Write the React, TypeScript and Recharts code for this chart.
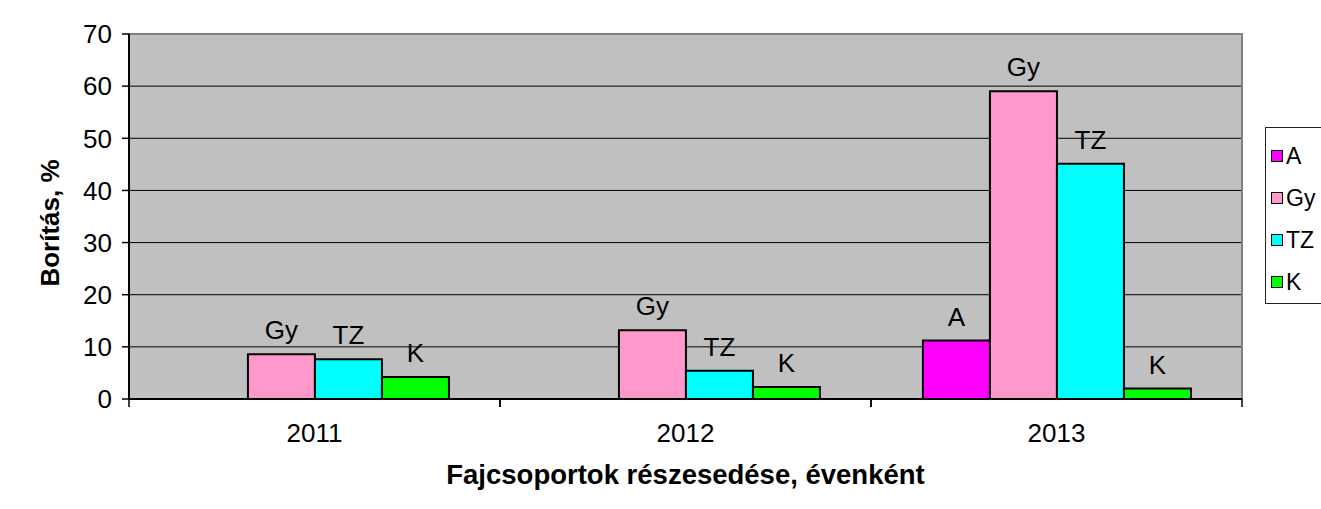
import React from 'react';
import { BarChart, Bar, XAxis, YAxis, CartesianGrid, LabelList, ReferenceArea } from 'recharts';

const years = ['2011', '2012', '2013'];
const seriesA = [0, 0, 11.2];
const seriesGy = [8.6, 13.2, 59.0];
const seriesTZ = [7.6, 5.4, 45.1];
const seriesK = [4.2, 2.3, 2.0];
const yTicks = [0, 10, 20, 30, 40, 50, 60, 70];
const seriesNames = ['A', 'Gy', 'TZ', 'K'];
const seriesColors = ['#FF00FF', '#FF99CC', '#00FFFF', '#00FF00'];
const yTitle = 'Borítás, %';
const xTitle = 'Fajcsoportok részesedése, évenként';

const data = years.map((year, i) => ({
  year,
  A: seriesA[i],
  Gy: seriesGy[i],
  TZ: seriesTZ[i],
  K: seriesK[i],
}));

const FONT = '"Liberation Sans", Arial, sans-serif';

const XTick = (props: any) => {
  const { x, y, payload, width } = props;
  const half = payload && payload.offset ? payload.offset : (width || 1113) / years.length / 2;
  return (
    <g>
      <line x1={x - half} y1={y} x2={x - half} y2={y + 8} stroke="#000" strokeWidth={1.5} />
      <line x1={x + half} y1={y} x2={x + half} y2={y + 8} stroke="#000" strokeWidth={1.5} />
      <text x={x} y={y + 43} textAnchor="middle" fontFamily={FONT} fontSize={26} fill="#000">
        {payload.value}
      </text>
    </g>
  );
};

const LegendBox = () => (
  <div
    style={{
      position: 'absolute',
      left: 1265,
      top: 127,
      border: '1px solid #222',
      background: '#fff',
      width: 90,
      height: 177,
      boxSizing: 'border-box',
      paddingTop: 7,
      fontFamily: FONT,
      fontSize: 23,
      color: '#000',
    }}
  >
    {seriesNames.map((n, i) => (
      <div key={n} style={{ height: 42, display: 'flex', alignItems: 'center', paddingLeft: 5 }}>
        <span
          style={{
            display: 'inline-block',
            width: 10,
            height: 10,
            background: seriesColors[i],
            border: '1.5px solid #000',
            marginRight: 3,
          }}
        />
        <span>{n}</span>
      </div>
    ))}
  </div>
);

const makeFormatter = (name: string) => (v: any) => (Number(v) > 0 ? name : '');
const labelStyle = { fontFamily: FONT, fontSize: 26, fill: '#000' };

export default function App() {
  return (
    <div style={{ position: 'absolute', left: 0, top: 0, width: 1321, height: 509, overflow: 'hidden', background: '#fff' }}>
      <BarChart
        width={1321}
        height={509}
        data={data}
        margin={{ top: 34, right: 79, bottom: 0, left: 0 }}
        barCategoryGap="14%"
        barGap={0}
      >
        <CartesianGrid vertical={false} stroke="#000" strokeWidth={1} fill="#C0C0C0" fillOpacity={1} />
        <ReferenceArea y1={0} y2={70} fill="none" fillOpacity={0} stroke="#808080" strokeWidth={2} ifOverflow="visible" />
        <XAxis
          dataKey="year"
          height={110}
          axisLine={{ stroke: '#000', strokeWidth: 2 }}
          tickLine={false}
          tickSize={0}
          tickMargin={0}
          tick={<XTick />}
          interval={0}
          label={{
            content: (p: any) => {
              const vb = p.viewBox || {};
              return (
                <text
                  x={(vb.x || 0) + (vb.width || 0) / 2}
                  y={484}
                  textAnchor="middle"
                  fontFamily={FONT}
                  fontWeight="bold"
                  fontSize={27.5}
                  fill="#000"
                >
                  {xTitle}
                </text>
              );
            },
          }}
        />
        <YAxis
          width={129}
          domain={[0, 70]}
          ticks={yTicks}
          interval={0}
          axisLine={{ stroke: '#000', strokeWidth: 2 }}
          tickLine={{ stroke: '#000', strokeWidth: 1.5 }}
          tickSize={7}
          tickMargin={10}
          tick={{ fontFamily: FONT, fontSize: 26, fill: '#000' }}
          label={{
            content: () => (
              <text
                x={0}
                y={0}
                transform={`translate(59, 223) rotate(-90)`}
                textAnchor="middle"
                fontFamily={FONT}
                fontWeight="bold"
                fontSize={26}
                fill="#000"
              >
                {yTitle}
              </text>
            ),
          }}
        />
        <Bar dataKey="A" fill={seriesColors[0]} stroke="#000" strokeWidth={2} isAnimationActive={false}>
          <LabelList dataKey="A" position="top" offset={15} formatter={makeFormatter('A')} style={labelStyle} />
        </Bar>
        <Bar dataKey="Gy" fill={seriesColors[1]} stroke="#000" strokeWidth={2} isAnimationActive={false}>
          <LabelList dataKey="Gy" position="top" offset={15} formatter={makeFormatter('Gy')} style={labelStyle} />
        </Bar>
        <Bar dataKey="TZ" fill={seriesColors[2]} stroke="#000" strokeWidth={2} isAnimationActive={false}>
          <LabelList dataKey="TZ" position="top" offset={15} formatter={makeFormatter('TZ')} style={labelStyle} />
        </Bar>
        <Bar dataKey="K" fill={seriesColors[3]} stroke="#000" strokeWidth={2} isAnimationActive={false}>
          <LabelList dataKey="K" position="top" offset={15} formatter={makeFormatter('K')} style={labelStyle} />
        </Bar>
      </BarChart>
      <LegendBox />
    </div>
  );
}
